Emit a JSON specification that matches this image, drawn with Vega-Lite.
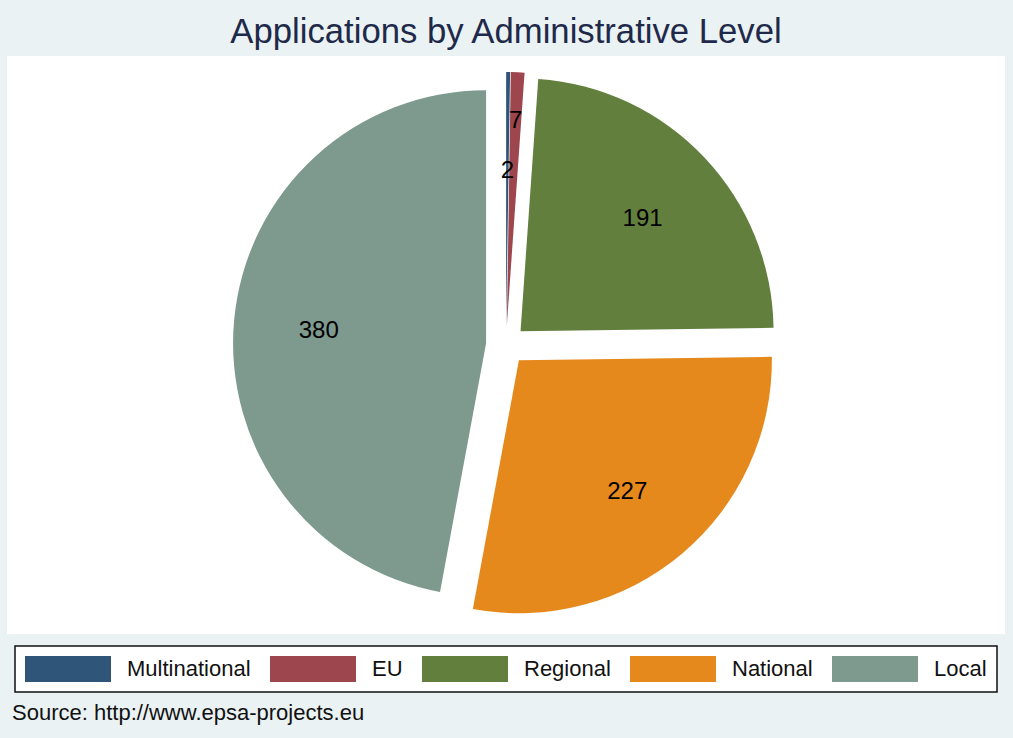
{
  "$schema": "https://vega.github.io/schema/vega-lite/v6.json",
  "background": "#eaf2f3",
  "padding": {"left": 7, "top": 15, "right": 8, "bottom": 14},
  "title": {
    "text": "Source: http://www.epsa-projects.eu",
    "orient": "bottom",
    "anchor": "start",
    "frame": "group",
    "fontSize": 22,
    "font": "Liberation Sans",
    "fontWeight": "normal",
    "color": "#111111",
    "offset": 10,
    "dx": 5
  },
  "data": {
    "values": [
      {"level": "Multinational", "count": 2, "rank": 1},
      {"level": "EU", "count": 7, "rank": 2},
      {"level": "Regional", "count": 191, "rank": 3},
      {"level": "National", "count": 227, "rank": 4},
      {"level": "Local", "count": 380, "rank": 5}
    ]
  },
  "spacing": 0,
  "vconcat": [
    {
      "name": "pie",
      "width": 998,
      "height": 578,
      "view": {"fill": "white", "stroke": null},
      "title": {
        "text": "Applications by Administrative Level",
        "fontSize": 34.7,
        "font": "Liberation Sans",
        "fontWeight": "normal",
        "color": "#1f2a4a",
        "anchor": "middle",
        "frame": "group",
        "offset": 5
      },
      "encoding": {
        "theta": {"field": "count", "type": "quantitative", "stack": true},
        "order": {"field": "rank", "type": "quantitative", "sort": "ascending"}
      },
      "layer": [
        {
          "mark": {
            "type": "arc",
            "radius": 253,
            "xOffset": {"expr": "20*sin(scale('pie_theta', (datum.count_start + datum.count_end)/2))"},
            "yOffset": {"expr": "-20*cos(scale('pie_theta', (datum.count_start + datum.count_end)/2))"}
          },
          "encoding": {
            "color": {
              "field": "level",
              "type": "nominal",
              "scale": {
                "domain": ["Multinational", "EU", "Regional", "National", "Local"],
                "range": ["#2f5679", "#9d464d", "#627f3e", "#e6891c", "#7e998e"]
              },
              "legend": {
                "title": null,
                "orient": "none",
                "legendX": 8,
                "legendY": 590,
                "direction": "horizontal",
                "columns": 5
              }
            }
          }
        },
        {
          "mark": {
            "type": "text",
            "fontSize": 24,
            "font": "Liberation Sans",
            "color": "#000000",
            "dy": 3,
            "radius": {"expr": "datum.level === 'EU' ? 227 : (datum.level === 'Multinational' ? 177 : 188)"}
          },
          "encoding": {
            "detail": {"field": "level", "type": "nominal"},
            "text": {"field": "count", "type": "quantitative"}
          }
        }
      ]
    }
  ],
  "config": {
    "view": {"fill": "white", "stroke": null},
    "legend": {
      "fillColor": "white",
      "strokeColor": "#111111",
      "strokeWidth": 1.5,
      "padding": 10,
      "labelFont": "Liberation Sans",
      "labelFontSize": 22,
      "labelColor": "#111111",
      "labelOffset": 46,
      "labelLimit": 300,
      "symbolType": "M-3.3077,-1H3.3077V1H-3.3077Z",
      "symbolSize": 676,
      "symbolOffset": 30,
      "symbolStrokeWidth": 0,
      "symbolOpacity": 1,
      "columnPadding": 18,
      "rowPadding": 0
    }
  }
}
